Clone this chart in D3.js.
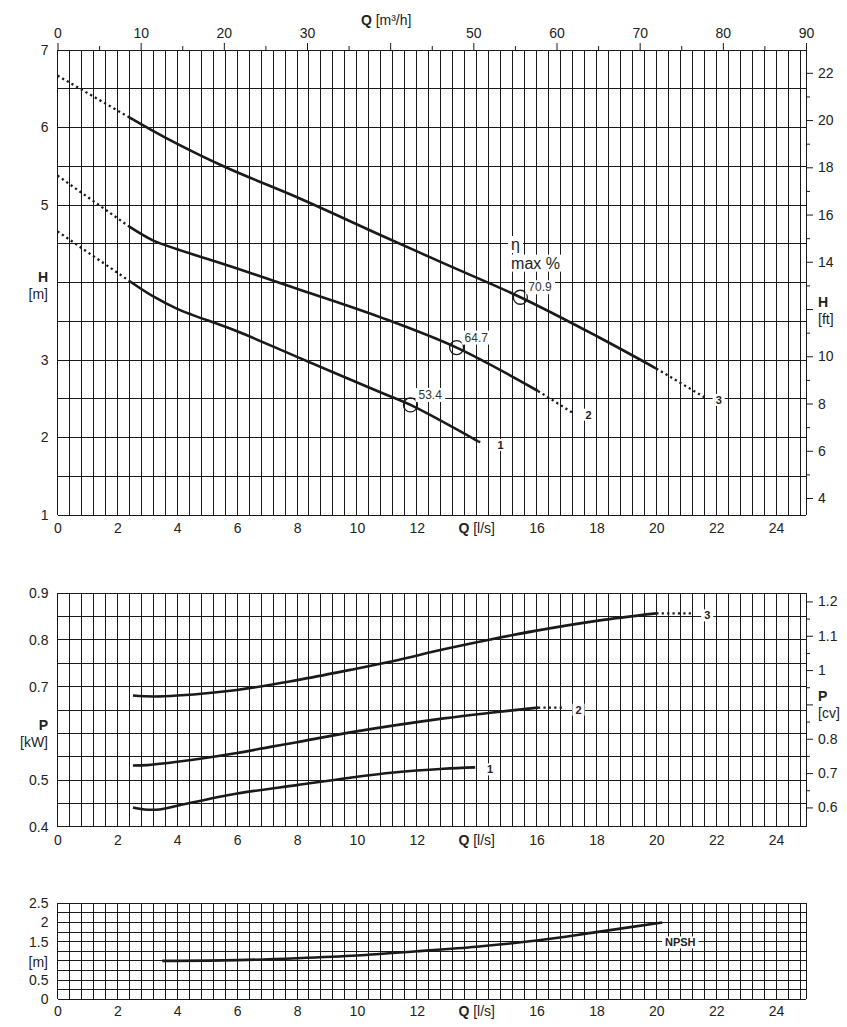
<!DOCTYPE html>
<html>
<head>
<meta charset="utf-8">
<script src="https://cdn.jsdelivr.net/npm/d3@7"></script>
<style>
  body { margin: 0; background: #fff; }
  svg { display: block; font-family: "Liberation Sans", Arial, sans-serif; }
</style>
</head>
<body>
<svg id="chart" width="847" height="1027"></svg>
<script>
// ---- data ----
// head H [m] against Q [l/s], curves 1..3
const qH1 = [0, 2.4, 3.2, 4, 6, 8, 10.8, 11.79, 14.05, 14.2];
const h1  = [4.66, 4.02, 3.82, 3.66, 3.37, 3.04, 2.58, 2.42, 1.95, 1.93];
const qH2 = [0, 2.4, 3.2, 4, 6, 8, 10.8, 13.33, 16.05, 17.2];
const h2  = [5.38, 4.72, 4.54, 4.43, 4.18, 3.92, 3.55, 3.16, 2.6, 2.32];
const qH3 = [0, 2.4, 3.6, 5.6, 8, 10.8, 13, 15.46, 18, 20, 21.65];
const h3  = [6.67, 6.13, 5.87, 5.49, 5.1, 4.61, 4.23, 3.81, 3.31, 2.89, 2.51];
const solidH = [[2.4, 14.05], [2.4, 16.05], [2.4, 20]];

// best efficiency points
const effQ = [11.79, 13.33, 15.46];
const effH = [2.42, 3.16, 3.81];
const effLabel = ["53.4", "64.7", "70.9"];

// power P [kW]
const qP1 = [2.52, 2.9, 3.4, 4, 6, 8, 9.78, 11.23, 12.9, 13.95];
const p1  = [0.441, 0.437, 0.437, 0.445, 0.471, 0.489, 0.505, 0.516, 0.524, 0.527];
const qP2 = [2.52, 3, 4, 6, 7.11, 8, 9.78, 12.9, 14.46, 16.05, 16.9];
const p2  = [0.531, 0.532, 0.539, 0.558, 0.571, 0.581, 0.602, 0.632, 0.644, 0.655, 0.655];
const qP3 = [2.52, 3.2, 4, 6, 8, 9.78, 11.23, 12.9, 14.46, 16, 18, 20, 21.2];
const p3  = [0.681, 0.679, 0.681, 0.693, 0.714, 0.736, 0.755, 0.78, 0.801, 0.82, 0.841, 0.857, 0.857];
const solidP = [[2.52, 13.95], [2.52, 16.05], [2.52, 20]];

// NPSH [m]
const qNpsh = [3.5, 6, 8, 10, 12, 14, 16, 18, 20.2];
const npsh  = [1.0, 1.02, 1.07, 1.14, 1.25, 1.37, 1.53, 1.75, 2.0];

// tick labels
const qTicks    = [0, 2, 4, 6, 8, 10, 12, 14, 16, 18, 20, 22, 24];
const m3hTicks  = [0, 10, 20, 30, 40, 50, 60, 70, 80, 90];
const m3hMinor  = [5, 15, 25, 35, 45, 55, 65, 75, 85];
const hTicks    = [1, 2, 3, 4, 5, 6, 7];
const ftTicks   = [4, 6, 8, 10, 12, 14, 16, 18, 20, 22];
const ftMinor   = [5, 7, 9, 11, 13, 15, 17, 19, 21];
const pTicks    = [0.4, 0.5, 0.6, 0.7, 0.8, 0.9];
const cvTicks   = [0.6, 0.7, 0.8, 0.9, 1, 1.1, 1.2];
const cvMinor   = [0.65, 0.75, 0.85, 0.95, 1.05, 1.15];
const npshTicks = [0, 0.5, 1, 1.5, 2, 2.5];

const svg = d3.select("#chart");
const x = d3.scaleLinear().domain([0, 25]).range([57.5, 806]);
const xm3 = d3.scaleLinear().domain([0, 90]).range([57.5, 806]);
const ink = "#1a1a1a";

function panel(y0, y1, dom, step) {
  const y = d3.scaleLinear().domain(dom).range([y1, y0]);
  const g = svg.append("g");
  g.selectAll(".v").data(d3.range(0, 24.9, 0.4).concat([25])).join("line")
    .attr("x1", d => x(d)).attr("x2", d => x(d))
    .attr("y1", y0).attr("y2", y1);
  g.selectAll(".h").data(d3.range(dom[0], dom[1] + step / 2, step)).join("line")
    .attr("x1", x(0)).attr("x2", x(25))
    .attr("y1", d => y(d)).attr("y2", d => y(d));
  g.selectAll("line").attr("stroke", ink).attr("stroke-width", 1)
    .attr("shape-rendering", "crispEdges");
  return { y, g };
}

function styleAxis(sel) {
  sel.select(".domain").remove();
  sel.attr("font-size", 14).attr("font-family", null);
  sel.selectAll("text").attr("fill", "#222");
  sel.selectAll("line").attr("stroke", ink);
}

function bottomAxis(p, pad) {
  const a = p.g.append("g").attr("transform", `translate(0,${p.y.range()[0]})`)
    .call(d3.axisBottom(x).tickValues(qTicks).tickSize(0).tickPadding(pad)
      .tickFormat(d => d === 14 ? "" : d));
  styleAxis(a);
  const t = p.g.append("text").attr("x", x(14)).attr("y", p.y.range()[0] + pad + 10)
    .attr("text-anchor", "middle").attr("font-size", 14).attr("fill", "#222");
  t.append("tspan").attr("font-weight", "bold").text("Q");
  t.append("tspan").text(" [l/s]");
}

function leftAxis(p, ticks, skip) {
  const a = p.g.append("g").attr("transform", `translate(${x(0)},0)`)
    .call(d3.axisLeft(p.y).tickValues(ticks).tickSize(0).tickPadding(9)
      .tickFormat(d => d === skip ? "" : d));
  styleAxis(a);
}

function rightAxis(p, scale, major, minor, skip) {
  const a = p.g.append("g").attr("transform", `translate(${x(25)},0)`)
    .call(d3.axisRight(scale).tickValues(major).tickSize(7).tickPadding(5)
      .tickFormat(d => d === skip ? "" : d));
  styleAxis(a);
  const b = p.g.append("g").attr("transform", `translate(${x(25)},0)`)
    .call(d3.axisRight(scale).tickValues(minor).tickSize(4).tickFormat(""));
  styleAxis(b);
}

function unitLabel(g, xp, yp, bold, unit, anchor) {
  if (bold) g.append("text").attr("x", xp).attr("y", yp).attr("text-anchor", anchor)
    .attr("font-size", 14).attr("font-weight", "bold").attr("fill", "#222").text(bold);
  g.append("text").attr("x", xp).attr("y", yp + 17).attr("text-anchor", anchor)
    .attr("font-size", 14).attr("fill", "#222").text(unit);
}

function boxed(g, xp, yp, txt, size, weight, anchor) {
  const t = g.append("text").attr("x", xp).attr("y", yp).attr("text-anchor", anchor || "middle")
    .attr("dominant-baseline", "central").attr("font-size", size)
    .attr("font-weight", weight || "normal").attr("fill", "#222").text(txt);
  const bb = t.node().getBBox();
  g.insert("rect", function () { return t.node(); })
    .attr("x", bb.x - 3).attr("y", bb.y).attr("width", bb.width + 6).attr("height", bb.height)
    .attr("fill", "#fff");
  return t;
}

function drawCurve(p, qs, vs, range, label, dx) {
  const pts = qs.map((q, i) => [q, vs[i]]);
  const line = d3.line().x(d => x(d[0])).y(d => p.y(d[1])).curve(d3.curveCatmullRom.alpha(0.5));
  const parts = [
    { pts: pts.filter(d => d[0] <= range[0]), dot: true },
    { pts: pts.filter(d => d[0] >= range[0] && d[0] <= range[1]), dot: false },
    { pts: pts.filter(d => d[0] >= range[1]), dot: true }
  ];
  parts.filter(s => s.pts.length > 1).forEach(s => {
    p.g.append("path").attr("d", line(s.pts)).attr("fill", "none")
      .attr("stroke", ink).attr("stroke-width", s.dot ? 2.3 : 2.6)
      .attr("stroke-dasharray", s.dot ? "2.2,3.2" : null);
  });
  if (label) {
    const last = pts[pts.length - 1];
    boxed(p.g, x(last[0]) + dx, p.y(last[1]) + 2, label, 11, "bold");
  }
}

// ---- head chart ----
const headP = panel(50, 515, [1, 7], 0.5);
bottomAxis(headP, 8);
leftAxis(headP, hTicks, 4);
const yFt = d3.scaleLinear().domain([1 / 0.3048, 7 / 0.3048]).range([515, 50]);
rightAxis(headP, yFt, ftTicks, ftMinor, 12);
unitLabel(headP.g, 48, 282, "H", "[m]", "end");
unitLabel(headP.g, 818, 307, "H", "[ft]", "start");

const ta = headP.g.append("g").attr("transform", "translate(0,50)")
  .call(d3.axisTop(xm3).tickValues(m3hTicks).tickSize(7).tickPadding(5)
    .tickFormat(d => d === 40 ? "" : d));
styleAxis(ta);
const tb = headP.g.append("g").attr("transform", "translate(0,50)")
  .call(d3.axisTop(xm3).tickValues(m3hMinor).tickSize(4).tickFormat(""));
styleAxis(tb);
const qt = headP.g.append("text").attr("x", xm3(40) - 4).attr("y", 25)
  .attr("text-anchor", "middle").attr("font-size", 14).attr("fill", "#222");
qt.append("tspan").attr("font-weight", "bold").text("Q");
qt.append("tspan").text(" [m³/h]");

drawCurve(headP, qH1, h1, solidH[0], "1", 18);
drawCurve(headP, qH2, h2, solidH[1], "2", 16);
drawCurve(headP, qH3, h3, solidH[2], "3", 13);

effQ.forEach((q, i) => {
  headP.g.append("circle").attr("cx", x(q)).attr("cy", headP.y(effH[i])).attr("r", 7)
    .attr("fill", "none").attr("stroke", ink).attr("stroke-width", 1.3);
  boxed(headP.g, x(q) + 8, headP.y(effH[i]) - 10, effLabel[i], 12, "normal", "start")
    .attr("fill", "#333");
});
boxed(headP.g, x(15.15), headP.y(4.49), "η", 16, "normal", "start");
boxed(headP.g, x(15.15), headP.y(4.25), "max %", 16, "normal", "start");

// ---- power chart ----
const powP = panel(593.3, 826.7, [0.4, 0.9], 0.05);
bottomAxis(powP, 8);
leftAxis(powP, pTicks, 0.6);
const yCv = d3.scaleLinear().domain([0.4 / 0.7355, 0.9 / 0.7355]).range([826.7, 593.3]);
rightAxis(powP, yCv, cvTicks, cvMinor, 0.9);
unitLabel(powP.g, 48, 730, "P", "[kW]", "end");
unitLabel(powP.g, 818, 701, "P", "[cv]", "start");
drawCurve(powP, qP1, p1, solidP[0], "1", 15);
drawCurve(powP, qP2, p2, solidP[1], "2", 15);
drawCurve(powP, qP3, p3, solidP[2], "3", 15);

// ---- NPSH chart ----
const npshP = panel(903.3, 999.3, [0, 2.5], 0.25);
bottomAxis(npshP, 7);
leftAxis(npshP, npshTicks, 1);
unitLabel(npshP.g, 48, 950, null, "[m]", "end");
drawCurve(npshP, qNpsh, npsh, [3.5, 20.2], null, 0);
boxed(npshP.g, x(20.8), npshP.y(1.48), "NPSH", 11, "bold");
</script>
</body>
</html>
